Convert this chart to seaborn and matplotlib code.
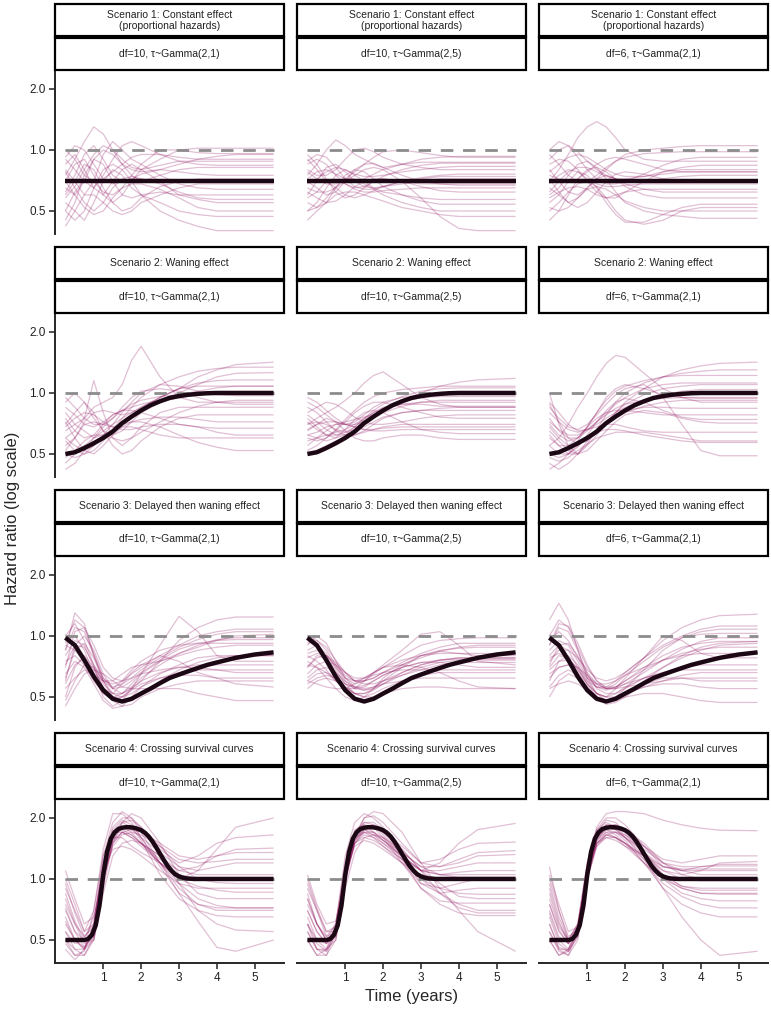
import matplotlib.pyplot as plt
import matplotlib.ticker as mticker
from matplotlib.patches import Rectangle
import pandas as pd
import seaborn as sns

# time points (years) at which the simulated curves were read
TIME_GRID = [0, 0.25, 0.5, 0.75, 1.0, 1.25, 1.5, 1.75, 2.0, 2.5, 3.0, 3.5, 4.0, 4.5, 5.5]

# true hazard ratio of each scenario
TRUE_S1_TIME = [0, 5.5]
TRUE_S1_HR = [0.70, 0.70]
TRUE_S23_TIME = [0, 0.25, 0.5, 0.75, 1.0, 1.25, 1.5, 1.75, 2.0, 2.25, 2.5, 2.75,
                 3.0, 3.25, 3.5, 3.75, 4.0, 4.25, 4.5, 4.75, 5.0, 5.25, 5.5]
TRUE_S2_HR = [0.50, 0.51, 0.535, 0.565, 0.60, 0.645, 0.71, 0.765, 0.82, 0.87, 0.91, 0.945,
              0.965, 0.98, 0.99, 0.997, 1.0, 1.0, 1.0, 1.0, 1.0, 1.0, 1.0]
TRUE_S3_HR = [0.98, 0.90, 0.76, 0.63, 0.54, 0.49, 0.475, 0.49, 0.52, 0.55, 0.585, 0.62,
              0.645, 0.67, 0.695, 0.72, 0.74, 0.76, 0.78, 0.795, 0.81, 0.82, 0.83]
TRUE_S4_TIME = [0, 0.5, 0.6, 0.7, 0.8, 0.9, 1.0, 1.1, 1.2, 1.3, 1.4, 1.5, 1.6, 1.7, 1.8,
                1.9, 2.0, 2.1, 2.2, 2.3, 2.4, 2.5, 2.6, 2.7, 2.8, 2.9, 3.0, 3.1, 3.2, 3.4, 5.5]
TRUE_S4_HR = [0.50, 0.50, 0.505, 0.53, 0.59, 0.74, 1.05, 1.36, 1.58, 1.70, 1.765, 1.79, 1.80,
              1.80, 1.79, 1.77, 1.74, 1.69, 1.62, 1.53, 1.43, 1.33, 1.24, 1.16, 1.10, 1.055,
              1.03, 1.015, 1.006, 1.0, 1.0]

# simulated curves, one list per panel (scenario x prior), values on TIME_GRID
S1_DF10_G21 = [
    [0.75, 0.9, 1.1, 1.3, 1.2, 1.0, 0.85, 0.8, 0.78, 0.8, 0.85, 0.9, 0.93, 0.95, 0.95],
    [0.55, 0.5, 0.45, 0.55, 0.7, 0.8, 0.75, 0.65, 0.6, 0.55, 0.5, 0.48, 0.47, 0.47, 0.47],
    [0.9, 0.8, 0.7, 0.65, 0.75, 0.9, 1.05, 1.1, 1.05, 0.95, 0.88, 0.85, 0.84, 0.84, 0.84],
    [0.6, 0.7, 0.85, 0.8, 0.65, 0.55, 0.5, 0.52, 0.58, 0.66, 0.7, 0.72, 0.72, 0.72, 0.72],
    [0.45, 0.55, 0.75, 0.9, 0.85, 0.7, 0.6, 0.58, 0.6, 0.62, 0.6, 0.57, 0.55, 0.55, 0.55],
    [0.8, 0.7, 0.6, 0.7, 0.95, 1.1, 1.0, 0.9, 0.85, 0.75, 0.68, 0.65, 0.64, 0.64, 0.64],
    [0.7, 0.85, 0.9, 0.75, 0.6, 0.55, 0.6, 0.7, 0.8, 0.9, 1.0, 1.02, 1.02, 1.02, 1.02],
    [0.5, 0.45, 0.5, 0.65, 0.8, 0.85, 0.8, 0.7, 0.6, 0.5, 0.45, 0.42, 0.4, 0.4, 0.4],
    [0.85, 0.95, 0.8, 0.65, 0.6, 0.7, 0.8, 0.85, 0.8, 0.7, 0.6, 0.6, 0.6, 0.6, 0.6],
    [0.65, 0.6, 0.7, 0.9, 1.0, 0.95, 0.85, 0.75, 0.7, 0.75, 0.8, 0.82, 0.82, 0.82, 0.82],
    [0.42, 0.5, 0.6, 0.6, 0.55, 0.5, 0.48, 0.5, 0.55, 0.6, 0.65, 0.68, 0.68, 0.68, 0.68],
    [1.0, 0.9, 0.75, 0.7, 0.72, 0.78, 0.85, 0.92, 0.95, 0.95, 0.92, 0.9, 0.9, 0.9, 0.9],
    [0.62, 0.75, 0.95, 1.05, 0.9, 0.75, 0.7, 0.72, 0.76, 0.8, 0.78, 0.76, 0.75, 0.75, 0.75],
    [0.78, 0.65, 0.55, 0.5, 0.55, 0.65, 0.72, 0.74, 0.72, 0.68, 0.62, 0.58, 0.57, 0.57, 0.57],
    [0.5, 0.62, 0.72, 0.7, 0.62, 0.6, 0.65, 0.75, 0.85, 1.0, 1.0, 0.97, 0.96, 0.96, 0.96],
    [0.92, 1.05, 1.0, 0.85, 0.72, 0.68, 0.7, 0.72, 0.72, 0.7, 0.7, 0.7, 0.7, 0.7, 0.7],
    [0.7, 0.6, 0.52, 0.48, 0.5, 0.58, 0.65, 0.68, 0.68, 0.64, 0.58, 0.52, 0.5, 0.5, 0.5],
    [0.58, 0.66, 0.8, 0.95, 1.05, 1.0, 0.9, 0.82, 0.8, 0.84, 0.88, 0.88, 0.88, 0.88, 0.88],
]
S1_DF10_G25 = [
    [0.75, 0.85, 1.0, 1.12, 1.05, 0.95, 0.9, 0.85, 0.82, 0.85, 0.9, 0.92, 0.93, 0.93, 0.93],
    [0.5, 0.55, 0.65, 0.75, 0.8, 0.75, 0.7, 0.65, 0.62, 0.6, 0.58, 0.57, 0.57, 0.57, 0.57],
    [0.7, 0.65, 0.6, 0.62, 0.7, 0.8, 0.85, 0.86, 0.82, 0.75, 0.7, 0.68, 0.67, 0.67, 0.67],
    [0.9, 0.8, 0.7, 0.65, 0.6, 0.58, 0.6, 0.63, 0.66, 0.7, 0.73, 0.75, 0.76, 0.76, 0.76],
    [0.6, 0.7, 0.82, 0.85, 0.78, 0.7, 0.66, 0.65, 0.66, 0.68, 0.7, 0.72, 0.72, 0.72, 0.72],
    [0.45, 0.5, 0.55, 0.6, 0.62, 0.62, 0.6, 0.58, 0.56, 0.52, 0.5, 0.48, 0.47, 0.47, 0.47],
    [0.8, 0.75, 0.75, 0.8, 0.9, 1.0, 1.02, 0.98, 0.92, 0.85, 0.82, 0.8, 0.8, 0.8, 0.8],
    [0.65, 0.62, 0.62, 0.65, 0.7, 0.75, 0.8, 0.82, 0.8, 0.7, 0.58, 0.47, 0.41, 0.4, 0.4],
    [0.85, 0.9, 0.85, 0.75, 0.68, 0.65, 0.66, 0.7, 0.74, 0.8, 0.84, 0.86, 0.86, 0.86, 0.86],
    [0.55, 0.52, 0.55, 0.65, 0.75, 0.8, 0.78, 0.72, 0.66, 0.6, 0.56, 0.54, 0.54, 0.54, 0.54],
    [0.72, 0.78, 0.8, 0.76, 0.72, 0.7, 0.72, 0.76, 0.8, 0.85, 0.87, 0.87, 0.87, 0.87, 0.87],
    [0.95, 0.85, 0.72, 0.62, 0.58, 0.6, 0.65, 0.7, 0.72, 0.7, 0.66, 0.63, 0.62, 0.62, 0.62],
    [0.68, 0.72, 0.78, 0.82, 0.8, 0.76, 0.74, 0.74, 0.75, 0.78, 0.8, 0.82, 0.83, 0.83, 0.83],
    [0.58, 0.62, 0.7, 0.72, 0.68, 0.64, 0.62, 0.62, 0.63, 0.64, 0.65, 0.65, 0.65, 0.65, 0.65],
    [0.78, 0.72, 0.68, 0.68, 0.72, 0.78, 0.85, 0.92, 0.98, 1.0, 0.97, 0.94, 0.92, 0.92, 0.92],
    [0.62, 0.58, 0.55, 0.56, 0.6, 0.66, 0.7, 0.72, 0.72, 0.7, 0.68, 0.68, 0.68, 0.68, 0.68],
    [0.88, 0.95, 0.92, 0.82, 0.72, 0.66, 0.64, 0.64, 0.66, 0.7, 0.72, 0.74, 0.74, 0.74, 0.74],
    [0.5, 0.52, 0.58, 0.66, 0.72, 0.72, 0.68, 0.64, 0.6, 0.55, 0.52, 0.5, 0.5, 0.5, 0.5],
]
S1_DF6_G21 = [
    [0.7, 0.8, 0.95, 1.15, 1.3, 1.38, 1.3, 1.15, 1.0, 0.9, 0.88, 0.88, 0.88, 0.88, 0.88],
    [0.5, 0.55, 0.62, 0.68, 0.7, 0.66, 0.58, 0.5, 0.45, 0.43, 0.45, 0.5, 0.52, 0.52, 0.52],
    [0.8, 0.7, 0.62, 0.6, 0.65, 0.72, 0.8, 0.88, 0.95, 1.0, 1.02, 1.04, 1.05, 1.05, 1.05],
    [0.6, 0.65, 0.75, 0.85, 0.88, 0.82, 0.72, 0.62, 0.55, 0.5, 0.48, 0.47, 0.46, 0.46, 0.46],
    [0.9, 1.0, 1.05, 0.98, 0.88, 0.8, 0.75, 0.72, 0.7, 0.7, 0.72, 0.74, 0.75, 0.75, 0.75],
    [0.45, 0.5, 0.6, 0.72, 0.8, 0.82, 0.78, 0.72, 0.66, 0.6, 0.58, 0.58, 0.58, 0.58, 0.58],
    [0.75, 0.72, 0.7, 0.72, 0.78, 0.85, 0.9, 0.92, 0.9, 0.85, 0.8, 0.78, 0.78, 0.78, 0.78],
    [0.65, 0.6, 0.55, 0.58, 0.65, 0.72, 0.75, 0.72, 0.68, 0.64, 0.62, 0.62, 0.62, 0.62, 0.62],
    [0.85, 0.9, 0.88, 0.8, 0.7, 0.62, 0.58, 0.58, 0.62, 0.7, 0.78, 0.82, 0.84, 0.84, 0.84],
    [0.55, 0.6, 0.7, 0.78, 0.75, 0.65, 0.55, 0.48, 0.44, 0.44, 0.48, 0.52, 0.54, 0.54, 0.54],
    [0.95, 0.85, 0.75, 0.7, 0.7, 0.75, 0.82, 0.88, 0.92, 0.96, 0.97, 0.98, 0.98, 0.98, 0.98],
    [0.68, 0.75, 0.8, 0.78, 0.72, 0.68, 0.66, 0.66, 0.67, 0.68, 0.68, 0.68, 0.68, 0.68, 0.68],
    [0.62, 0.7, 0.78, 0.82, 0.82, 0.78, 0.74, 0.72, 0.72, 0.74, 0.78, 0.8, 0.8, 0.8, 0.8],
    [0.72, 0.62, 0.55, 0.52, 0.55, 0.62, 0.7, 0.76, 0.78, 0.76, 0.72, 0.7, 0.7, 0.7, 0.7],
    [1.0, 1.1, 1.05, 0.92, 0.8, 0.72, 0.68, 0.68, 0.7, 0.76, 0.84, 0.9, 0.92, 0.92, 0.92],
    [0.52, 0.5, 0.52, 0.58, 0.64, 0.66, 0.64, 0.6, 0.56, 0.52, 0.5, 0.5, 0.5, 0.5, 0.5],
    [0.78, 0.85, 0.92, 0.95, 0.92, 0.86, 0.8, 0.76, 0.74, 0.74, 0.76, 0.78, 0.78, 0.78, 0.78],
    [0.58, 0.62, 0.65, 0.66, 0.64, 0.6, 0.58, 0.6, 0.62, 0.64, 0.64, 0.64, 0.64, 0.64, 0.64],
]
S2_DF10_G21 = [
    [0.6, 0.65, 0.75, 0.85, 0.9, 0.95, 1.1, 1.45, 1.7, 1.2, 0.95, 0.9, 0.9, 0.9, 0.9],
    [0.45, 0.5, 0.55, 0.6, 0.65, 0.7, 0.75, 0.8, 0.85, 0.95, 1.05, 1.2, 1.3, 1.38, 1.42],
    [0.8, 0.7, 0.75, 1.15, 0.8, 0.6, 0.55, 0.6, 0.68, 0.8, 0.85, 0.85, 0.85, 0.85, 0.85],
    [0.7, 0.8, 0.9, 0.8, 0.65, 0.55, 0.5, 0.52, 0.58, 0.68, 0.75, 0.78, 0.78, 0.78, 0.78],
    [0.55, 0.6, 0.7, 0.72, 0.7, 0.68, 0.7, 0.75, 0.82, 0.95, 1.05, 1.12, 1.15, 1.16, 1.16],
    [0.9, 1.0, 0.9, 0.75, 0.65, 0.62, 0.65, 0.72, 0.8, 0.9, 0.95, 0.98, 1.0, 1.0, 1.0],
    [0.5, 0.48, 0.5, 0.55, 0.6, 0.65, 0.7, 0.72, 0.72, 0.68, 0.62, 0.57, 0.54, 0.52, 0.52],
    [0.65, 0.7, 0.65, 0.6, 0.62, 0.7, 0.8, 0.9, 1.0, 1.1, 1.08, 1.02, 0.98, 0.97, 0.97],
    [0.75, 0.65, 0.6, 0.62, 0.7, 0.78, 0.82, 0.82, 0.8, 0.75, 0.7, 0.68, 0.67, 0.67, 0.67],
    [0.42, 0.45, 0.52, 0.6, 0.68, 0.75, 0.85, 0.95, 1.02, 1.05, 1.02, 0.95, 0.9, 0.88, 0.88],
    [0.85, 0.78, 0.7, 0.68, 0.72, 0.78, 0.82, 0.85, 0.88, 0.92, 1.0, 1.1, 1.2, 1.25, 1.26],
    [0.6, 0.55, 0.52, 0.55, 0.62, 0.66, 0.68, 0.68, 0.66, 0.62, 0.6, 0.6, 0.6, 0.6, 0.6],
    [0.52, 0.6, 0.72, 0.8, 0.82, 0.8, 0.78, 0.8, 0.85, 0.95, 1.05, 1.08, 1.08, 1.08, 1.08],
    [0.72, 0.6, 0.52, 0.5, 0.55, 0.62, 0.68, 0.72, 0.74, 0.76, 0.76, 0.74, 0.72, 0.72, 0.72],
    [0.95, 0.85, 0.75, 0.7, 0.7, 0.75, 0.82, 0.88, 0.92, 0.96, 0.98, 1.02, 1.06, 1.08, 1.08],
    [0.48, 0.52, 0.58, 0.62, 0.62, 0.6, 0.58, 0.6, 0.64, 0.72, 0.8, 0.86, 0.9, 0.92, 0.92],
    [0.68, 0.75, 0.8, 0.78, 0.72, 0.68, 0.66, 0.66, 0.68, 0.7, 0.7, 0.68, 0.64, 0.62, 0.62],
    [0.58, 0.52, 0.5, 0.52, 0.58, 0.66, 0.75, 0.85, 0.95, 1.1, 1.2, 1.28, 1.32, 1.34, 1.34],
]
S2_DF10_G25 = [
    [0.7, 0.75, 0.8, 0.85, 0.92, 1.0, 1.12, 1.22, 1.27, 1.1, 0.95, 0.88, 0.85, 0.85, 0.85],
    [0.55, 0.6, 0.65, 0.7, 0.72, 0.74, 0.76, 0.78, 0.82, 0.9, 1.0, 1.08, 1.13, 1.16, 1.18],
    [0.85, 0.8, 0.72, 0.65, 0.62, 0.62, 0.65, 0.7, 0.75, 0.8, 0.82, 0.82, 0.82, 0.82, 0.82],
    [0.65, 0.7, 0.75, 0.72, 0.65, 0.6, 0.58, 0.58, 0.6, 0.62, 0.62, 0.6, 0.59, 0.59, 0.59],
    [0.9, 0.85, 0.78, 0.72, 0.7, 0.72, 0.78, 0.85, 0.9, 0.95, 0.97, 0.98, 0.98, 0.98, 0.98],
    [0.6, 0.58, 0.6, 0.65, 0.72, 0.8, 0.86, 0.9, 0.9, 0.85, 0.8, 0.76, 0.75, 0.75, 0.75],
    [0.75, 0.68, 0.62, 0.6, 0.62, 0.68, 0.75, 0.82, 0.88, 0.96, 1.02, 1.05, 1.06, 1.06, 1.06],
    [0.5, 0.52, 0.55, 0.58, 0.6, 0.62, 0.64, 0.66, 0.68, 0.7, 0.7, 0.7, 0.7, 0.7, 0.7],
    [0.8, 0.85, 0.9, 0.88, 0.82, 0.76, 0.72, 0.7, 0.7, 0.72, 0.75, 0.77, 0.78, 0.78, 0.78],
    [0.62, 0.6, 0.58, 0.6, 0.66, 0.74, 0.8, 0.82, 0.8, 0.72, 0.66, 0.64, 0.63, 0.63, 0.63],
    [0.95, 0.9, 0.82, 0.75, 0.7, 0.7, 0.72, 0.76, 0.8, 0.86, 0.9, 0.92, 0.92, 0.92, 0.92],
    [0.7, 0.72, 0.7, 0.66, 0.64, 0.66, 0.7, 0.76, 0.82, 0.9, 0.95, 0.96, 0.96, 0.96, 0.96],
    [0.58, 0.6, 0.62, 0.64, 0.66, 0.7, 0.75, 0.8, 0.84, 0.88, 0.9, 0.9, 0.9, 0.9, 0.9],
    [0.78, 0.72, 0.66, 0.62, 0.62, 0.64, 0.68, 0.72, 0.76, 0.8, 0.82, 0.84, 0.85, 0.85, 0.85],
    [0.66, 0.7, 0.72, 0.72, 0.7, 0.68, 0.66, 0.66, 0.67, 0.68, 0.68, 0.68, 0.68, 0.68, 0.68],
    [0.52, 0.55, 0.6, 0.66, 0.74, 0.82, 0.9, 0.96, 1.0, 1.04, 1.06, 1.08, 1.08, 1.08, 1.08],
    [0.72, 0.66, 0.62, 0.62, 0.64, 0.68, 0.74, 0.8, 0.85, 0.88, 0.88, 0.86, 0.86, 0.86, 0.86],
    [0.62, 0.64, 0.68, 0.7, 0.7, 0.68, 0.66, 0.65, 0.65, 0.66, 0.66, 0.66, 0.66, 0.66, 0.66],
]
S2_DF6_G21 = [
    [0.55, 0.6, 0.7, 0.85, 1.0, 1.2, 1.4, 1.53, 1.5, 1.25, 1.05, 0.95, 0.9, 0.9, 0.9],
    [1.0, 0.7, 0.55, 0.5, 0.55, 0.62, 0.7, 0.8, 0.9, 1.05, 1.2, 1.3, 1.36, 1.4, 1.42],
    [0.75, 0.65, 0.6, 0.6, 0.65, 0.72, 0.8, 0.88, 0.95, 1.05, 1.1, 1.12, 1.12, 1.12, 1.12],
    [0.45, 0.42, 0.45, 0.5, 0.58, 0.65, 0.72, 0.78, 0.82, 0.85, 0.85, 0.84, 0.84, 0.84, 0.84],
    [0.85, 0.75, 0.68, 0.66, 0.7, 0.78, 0.88, 0.98, 1.05, 1.1, 0.95, 0.7, 0.52, 0.49, 0.49],
    [0.6, 0.55, 0.55, 0.6, 0.68, 0.75, 0.8, 0.82, 0.82, 0.8, 0.78, 0.78, 0.78, 0.78, 0.78],
    [0.7, 0.62, 0.58, 0.6, 0.68, 0.8, 0.92, 1.02, 1.08, 1.15, 1.2, 1.22, 1.22, 1.22, 1.22],
    [0.5, 0.48, 0.5, 0.55, 0.6, 0.64, 0.66, 0.66, 0.65, 0.62, 0.6, 0.58, 0.57, 0.57, 0.57],
    [0.9, 0.8, 0.7, 0.65, 0.66, 0.7, 0.75, 0.8, 0.85, 0.92, 0.98, 1.02, 1.04, 1.04, 1.04],
    [0.65, 0.58, 0.52, 0.5, 0.52, 0.58, 0.65, 0.72, 0.78, 0.82, 0.8, 0.75, 0.72, 0.71, 0.71],
    [0.42, 0.45, 0.5, 0.58, 0.68, 0.8, 0.95, 1.05, 1.1, 1.05, 0.98, 0.95, 0.94, 0.94, 0.94],
    [0.8, 0.72, 0.66, 0.64, 0.66, 0.68, 0.7, 0.7, 0.68, 0.65, 0.64, 0.64, 0.64, 0.64, 0.64],
    [0.62, 0.55, 0.5, 0.5, 0.56, 0.66, 0.78, 0.9, 1.0, 1.12, 1.2, 1.25, 1.28, 1.3, 1.3],
    [0.72, 0.66, 0.62, 0.62, 0.66, 0.72, 0.78, 0.84, 0.88, 0.92, 0.94, 0.95, 0.95, 0.95, 0.95],
    [0.55, 0.5, 0.5, 0.54, 0.62, 0.72, 0.82, 0.9, 0.94, 0.9, 0.82, 0.76, 0.74, 0.74, 0.74],
    [0.88, 0.72, 0.6, 0.56, 0.58, 0.64, 0.72, 0.8, 0.88, 0.98, 1.05, 1.08, 1.1, 1.1, 1.1],
    [0.48, 0.46, 0.48, 0.52, 0.56, 0.6, 0.62, 0.64, 0.64, 0.64, 0.62, 0.6, 0.58, 0.58, 0.58],
    [0.68, 0.6, 0.55, 0.55, 0.6, 0.66, 0.72, 0.76, 0.8, 0.86, 0.9, 0.92, 0.92, 0.92, 0.92],
]
S3_DF10_G21 = [
    [0.85, 1.3, 1.15, 0.8, 0.6, 0.55, 0.6, 0.68, 0.75, 0.85, 0.9, 0.92, 0.92, 0.92, 0.92],
    [0.6, 0.9, 1.0, 0.85, 0.65, 0.55, 0.52, 0.55, 0.6, 0.75, 0.95, 1.1, 1.2, 1.24, 1.24],
    [0.95, 1.0, 0.85, 0.65, 0.5, 0.45, 0.48, 0.55, 0.65, 0.9, 1.25, 1.05, 0.8, 0.75, 0.75],
    [0.5, 0.7, 0.8, 0.7, 0.55, 0.48, 0.45, 0.46, 0.5, 0.55, 0.58, 0.6, 0.6, 0.6, 0.6],
    [0.75, 0.8, 0.72, 0.6, 0.52, 0.5, 0.52, 0.58, 0.65, 0.75, 0.82, 0.88, 0.95, 1.0, 1.02],
    [0.45, 0.55, 0.65, 0.68, 0.65, 0.6, 0.56, 0.55, 0.55, 0.55, 0.55, 0.52, 0.5, 0.48, 0.48],
    [1.0, 1.15, 0.95, 0.72, 0.6, 0.6, 0.65, 0.7, 0.72, 0.75, 0.8, 0.85, 0.88, 0.9, 0.9],
    [0.65, 0.75, 0.7, 0.58, 0.48, 0.44, 0.45, 0.5, 0.56, 0.65, 0.72, 0.78, 0.8, 0.8, 0.8],
    [0.8, 0.95, 0.9, 0.7, 0.55, 0.52, 0.58, 0.66, 0.72, 0.8, 0.75, 0.66, 0.62, 0.62, 0.62],
    [0.55, 0.62, 0.68, 0.65, 0.6, 0.58, 0.6, 0.65, 0.7, 0.8, 0.9, 1.0, 1.05, 1.08, 1.08],
    [0.9, 0.85, 0.75, 0.62, 0.52, 0.48, 0.5, 0.55, 0.6, 0.66, 0.7, 0.72, 0.72, 0.72, 0.72],
    [0.7, 1.05, 1.1, 0.9, 0.7, 0.62, 0.6, 0.62, 0.65, 0.68, 0.7, 0.7, 0.68, 0.66, 0.66],
    [0.62, 0.85, 0.92, 0.78, 0.6, 0.5, 0.47, 0.48, 0.52, 0.6, 0.68, 0.74, 0.78, 0.8, 0.8],
    [0.85, 1.1, 1.05, 0.8, 0.62, 0.56, 0.58, 0.62, 0.68, 0.78, 0.88, 0.96, 1.02, 1.05, 1.05],
    [0.48, 0.6, 0.72, 0.7, 0.6, 0.52, 0.5, 0.52, 0.56, 0.62, 0.66, 0.68, 0.68, 0.68, 0.68],
    [0.72, 0.9, 0.88, 0.72, 0.58, 0.52, 0.52, 0.56, 0.62, 0.72, 0.82, 0.9, 0.96, 0.98, 0.98],
    [0.58, 0.72, 0.78, 0.68, 0.56, 0.5, 0.5, 0.54, 0.58, 0.62, 0.64, 0.64, 0.62, 0.58, 0.56],
    [0.92, 1.2, 1.1, 0.82, 0.62, 0.55, 0.56, 0.6, 0.66, 0.76, 0.86, 0.92, 0.95, 0.96, 0.96],
]
S3_DF10_G25 = [
    [0.9, 1.0, 0.92, 0.75, 0.62, 0.58, 0.6, 0.65, 0.7, 0.8, 0.9, 0.95, 0.97, 0.98, 0.98],
    [0.7, 0.8, 0.78, 0.68, 0.58, 0.52, 0.5, 0.52, 0.55, 0.6, 0.64, 0.66, 0.66, 0.66, 0.66],
    [0.6, 0.65, 0.66, 0.62, 0.56, 0.52, 0.52, 0.55, 0.6, 0.7, 0.8, 0.85, 0.87, 0.88, 0.88],
    [0.8, 0.75, 0.68, 0.6, 0.55, 0.55, 0.6, 0.66, 0.72, 0.85, 1.02, 1.05, 0.9, 0.75, 0.72],
    [0.55, 0.6, 0.62, 0.6, 0.56, 0.52, 0.5, 0.5, 0.52, 0.55, 0.56, 0.56, 0.55, 0.55, 0.55],
    [0.95, 0.88, 0.78, 0.66, 0.58, 0.55, 0.56, 0.6, 0.64, 0.7, 0.74, 0.76, 0.77, 0.77, 0.77],
    [0.65, 0.72, 0.75, 0.72, 0.66, 0.62, 0.62, 0.64, 0.66, 0.68, 0.68, 0.68, 0.68, 0.68, 0.68],
    [0.75, 0.7, 0.62, 0.55, 0.5, 0.48, 0.5, 0.55, 0.62, 0.72, 0.8, 0.84, 0.82, 0.8, 0.8],
    [0.85, 0.9, 0.82, 0.7, 0.62, 0.6, 0.62, 0.66, 0.7, 0.72, 0.7, 0.66, 0.6, 0.56, 0.55],
    [0.6, 0.58, 0.56, 0.55, 0.55, 0.58, 0.62, 0.66, 0.7, 0.76, 0.8, 0.82, 0.82, 0.82, 0.82],
    [1.0, 0.95, 0.85, 0.72, 0.62, 0.56, 0.54, 0.55, 0.58, 0.64, 0.7, 0.74, 0.76, 0.76, 0.76],
    [0.7, 0.78, 0.8, 0.74, 0.66, 0.6, 0.58, 0.58, 0.6, 0.64, 0.68, 0.72, 0.74, 0.74, 0.74],
    [0.82, 0.85, 0.8, 0.7, 0.6, 0.55, 0.54, 0.56, 0.6, 0.66, 0.72, 0.76, 0.78, 0.78, 0.78],
    [0.62, 0.68, 0.7, 0.66, 0.6, 0.56, 0.55, 0.56, 0.58, 0.6, 0.62, 0.62, 0.62, 0.62, 0.62],
    [0.92, 0.95, 0.88, 0.76, 0.66, 0.6, 0.6, 0.62, 0.66, 0.74, 0.82, 0.88, 0.92, 0.92, 0.92],
    [0.72, 0.7, 0.66, 0.6, 0.55, 0.52, 0.52, 0.54, 0.58, 0.66, 0.72, 0.76, 0.78, 0.78, 0.78],
    [0.58, 0.62, 0.64, 0.62, 0.58, 0.56, 0.57, 0.6, 0.64, 0.7, 0.74, 0.74, 0.72, 0.7, 0.7],
    [0.78, 0.82, 0.8, 0.72, 0.64, 0.6, 0.6, 0.62, 0.66, 0.72, 0.78, 0.84, 0.88, 0.9, 0.9],
]
S3_DF6_G21 = [
    [1.2, 1.45, 1.2, 0.85, 0.62, 0.52, 0.5, 0.55, 0.62, 0.78, 0.95, 1.1, 1.2, 1.26, 1.28],
    [0.9, 1.1, 1.05, 0.85, 0.65, 0.55, 0.52, 0.52, 0.55, 0.62, 0.7, 0.78, 0.85, 0.9, 0.92],
    [0.6, 0.75, 0.8, 0.72, 0.6, 0.52, 0.48, 0.48, 0.52, 0.6, 0.7, 0.8, 0.88, 0.92, 0.94],
    [0.8, 0.9, 0.85, 0.7, 0.58, 0.5, 0.46, 0.47, 0.5, 0.58, 0.62, 0.62, 0.6, 0.6, 0.6],
    [0.5, 0.6, 0.65, 0.62, 0.55, 0.5, 0.48, 0.5, 0.55, 0.68, 0.85, 0.98, 1.05, 1.08, 1.08],
    [1.0, 1.2, 1.1, 0.88, 0.7, 0.6, 0.56, 0.56, 0.58, 0.62, 0.66, 0.7, 0.72, 0.72, 0.72],
    [0.7, 0.8, 0.78, 0.68, 0.58, 0.52, 0.5, 0.52, 0.56, 0.62, 0.66, 0.68, 0.68, 0.68, 0.68],
    [0.85, 0.95, 0.9, 0.75, 0.62, 0.56, 0.55, 0.58, 0.64, 0.75, 0.88, 0.98, 1.02, 1.03, 1.03],
    [0.55, 0.58, 0.6, 0.58, 0.54, 0.5, 0.48, 0.48, 0.5, 0.52, 0.52, 0.5, 0.48, 0.47, 0.47],
    [0.75, 0.85, 0.85, 0.78, 0.68, 0.62, 0.6, 0.62, 0.66, 0.78, 1.0, 0.95, 0.82, 0.78, 0.78],
    [0.95, 1.05, 0.95, 0.78, 0.64, 0.56, 0.54, 0.56, 0.6, 0.68, 0.76, 0.82, 0.86, 0.88, 0.88],
    [0.65, 0.7, 0.72, 0.7, 0.64, 0.58, 0.55, 0.55, 0.56, 0.58, 0.6, 0.62, 0.62, 0.62, 0.62],
    [0.72, 0.9, 0.92, 0.8, 0.66, 0.58, 0.55, 0.56, 0.6, 0.7, 0.8, 0.88, 0.92, 0.94, 0.94],
    [0.62, 0.7, 0.72, 0.66, 0.58, 0.52, 0.5, 0.5, 0.52, 0.56, 0.6, 0.64, 0.66, 0.66, 0.66],
    [0.9, 1.15, 1.12, 0.92, 0.72, 0.6, 0.55, 0.55, 0.58, 0.66, 0.76, 0.86, 0.94, 0.98, 0.98],
    [0.78, 0.82, 0.78, 0.68, 0.6, 0.56, 0.56, 0.6, 0.66, 0.78, 0.9, 1.0, 1.08, 1.12, 1.12],
    [0.56, 0.64, 0.68, 0.64, 0.56, 0.5, 0.48, 0.49, 0.52, 0.56, 0.58, 0.58, 0.56, 0.55, 0.55],
    [0.68, 0.75, 0.76, 0.7, 0.62, 0.58, 0.58, 0.6, 0.64, 0.7, 0.76, 0.8, 0.82, 0.82, 0.82],
]
S4_DF10_G21 = [
    [0.9, 0.7, 0.55, 0.7, 1.4, 2.1, 2.1, 1.9, 1.6, 1.2, 1.0, 1.1, 1.4, 1.8, 2.0],
    [0.6, 0.5, 0.45, 0.6, 1.2, 1.8, 2.0, 2.0, 1.8, 1.4, 1.2, 1.3, 1.5, 1.6, 1.65],
    [1.1, 0.8, 0.6, 0.65, 1.0, 1.5, 1.7, 1.65, 1.5, 1.2, 0.9, 0.75, 0.7, 0.7, 0.7],
    [0.5, 0.42, 0.42, 0.5, 0.9, 1.5, 1.9, 2.1, 2.0, 1.5, 1.05, 0.85, 0.8, 0.8, 0.8],
    [0.7, 0.55, 0.5, 0.55, 1.1, 1.6, 1.6, 1.45, 1.35, 1.2, 1.05, 1.0, 1.0, 1.0, 1.0],
    [0.45, 0.4, 0.45, 0.7, 1.3, 1.7, 1.7, 1.6, 1.5, 1.3, 1.1, 1.15, 1.3, 1.4, 1.42],
    [0.8, 0.6, 0.48, 0.5, 0.85, 1.3, 1.5, 1.55, 1.5, 1.3, 0.95, 0.7, 0.6, 0.56, 0.55],
    [1.0, 0.75, 0.55, 0.6, 1.3, 1.9, 2.15, 2.0, 1.7, 1.2, 0.85, 0.62, 0.46, 0.44, 0.5],
    [0.55, 0.48, 0.5, 0.65, 1.1, 1.4, 1.45, 1.4, 1.3, 1.1, 0.95, 0.9, 0.9, 0.9, 0.9],
    [0.65, 0.5, 0.45, 0.5, 0.95, 1.55, 1.8, 1.75, 1.6, 1.35, 1.15, 1.1, 1.15, 1.2, 1.2],
    [0.75, 0.6, 0.52, 0.6, 1.15, 1.7, 1.9, 1.8, 1.55, 1.05, 0.8, 0.7, 0.66, 0.65, 0.65],
    [0.5, 0.45, 0.45, 0.55, 1.0, 1.45, 1.65, 1.7, 1.65, 1.45, 1.25, 1.2, 1.22, 1.25, 1.25],
    [0.85, 0.62, 0.5, 0.55, 1.05, 1.6, 1.8, 1.7, 1.5, 1.25, 1.1, 1.05, 1.05, 1.05, 1.05],
    [0.55, 0.45, 0.42, 0.52, 1.0, 1.5, 1.7, 1.75, 1.7, 1.5, 1.3, 1.25, 1.3, 1.35, 1.35],
    [0.95, 0.68, 0.52, 0.58, 1.2, 1.75, 1.95, 1.85, 1.6, 1.15, 0.85, 0.75, 0.72, 0.72, 0.72],
    [0.62, 0.5, 0.46, 0.55, 1.05, 1.55, 1.7, 1.6, 1.45, 1.2, 1.0, 0.92, 0.88, 0.86, 0.86],
    [0.72, 0.55, 0.46, 0.52, 1.0, 1.6, 1.9, 1.95, 1.8, 1.45, 1.15, 1.0, 0.96, 0.95, 0.95],
    [0.48, 0.42, 0.44, 0.58, 1.15, 1.65, 1.75, 1.65, 1.5, 1.2, 0.95, 0.8, 0.74, 0.72, 0.72],
]
S4_DF10_G25 = [
    [0.85, 0.6, 0.5, 0.6, 1.3, 1.9, 2.1, 2.0, 1.8, 1.4, 1.1, 1.2, 1.5, 1.75, 1.88],
    [0.6, 0.45, 0.42, 0.55, 1.1, 1.7, 1.9, 1.9, 1.75, 1.35, 1.0, 0.85, 0.75, 0.7, 0.7],
    [1.05, 0.75, 0.6, 0.62, 1.0, 1.5, 1.75, 1.8, 1.7, 1.45, 1.2, 1.15, 1.2, 1.3, 1.32],
    [0.5, 0.42, 0.45, 0.55, 1.0, 1.6, 2.0, 2.15, 2.1, 1.7, 1.2, 0.9, 0.7, 0.55, 0.44],
    [0.7, 0.55, 0.48, 0.55, 1.05, 1.45, 1.55, 1.5, 1.4, 1.2, 1.05, 1.0, 1.0, 1.0, 1.0],
    [0.55, 0.45, 0.45, 0.6, 1.2, 1.75, 1.85, 1.7, 1.55, 1.3, 1.1, 1.1, 1.15, 1.2, 1.2],
    [0.9, 0.7, 0.55, 0.55, 0.9, 1.35, 1.6, 1.65, 1.6, 1.4, 1.1, 0.85, 0.72, 0.68, 0.68],
    [0.65, 0.5, 0.45, 0.5, 0.95, 1.55, 1.8, 1.85, 1.7, 1.3, 0.95, 0.85, 0.88, 0.9, 0.9],
    [0.75, 0.6, 0.52, 0.6, 1.15, 1.6, 1.7, 1.6, 1.45, 1.25, 1.1, 1.05, 1.05, 1.05, 1.05],
    [0.5, 0.42, 0.42, 0.5, 1.0, 1.65, 2.0, 2.05, 1.9, 1.5, 1.2, 1.25, 1.4, 1.5, 1.52],
    [0.8, 0.6, 0.5, 0.55, 1.1, 1.5, 1.6, 1.55, 1.45, 1.2, 0.9, 0.78, 0.76, 0.76, 0.76],
    [0.6, 0.5, 0.48, 0.55, 1.05, 1.6, 1.85, 1.8, 1.6, 1.2, 0.95, 0.9, 0.95, 1.0, 1.0],
    [0.95, 0.7, 0.52, 0.55, 1.0, 1.55, 1.75, 1.7, 1.55, 1.3, 1.1, 1.05, 1.08, 1.1, 1.1],
    [0.55, 0.45, 0.44, 0.55, 1.1, 1.6, 1.75, 1.65, 1.5, 1.25, 1.0, 0.9, 0.85, 0.84, 0.84],
    [0.7, 0.55, 0.48, 0.52, 1.0, 1.5, 1.7, 1.7, 1.6, 1.35, 1.15, 1.15, 1.25, 1.35, 1.38],
    [0.8, 0.6, 0.5, 0.55, 1.1, 1.65, 1.9, 1.85, 1.65, 1.25, 0.9, 0.75, 0.68, 0.66, 0.66],
    [0.6, 0.48, 0.44, 0.52, 1.05, 1.55, 1.7, 1.65, 1.55, 1.35, 1.15, 1.05, 1.02, 1.02, 1.02],
    [1.0, 0.72, 0.55, 0.58, 1.05, 1.5, 1.65, 1.6, 1.5, 1.3, 1.1, 0.95, 0.82, 0.8, 0.8],
]
S4_DF6_G21 = [
    [1.15, 0.7, 0.5, 0.6, 1.2, 1.8, 2.1, 2.15, 2.15, 2.1, 1.95, 1.85, 1.78, 1.74, 1.73],
    [0.6, 0.45, 0.42, 0.55, 1.1, 1.7, 1.95, 1.9, 1.7, 1.35, 1.1, 1.05, 1.1, 1.2, 1.22],
    [0.85, 0.6, 0.5, 0.6, 1.15, 1.6, 1.75, 1.65, 1.5, 1.2, 0.95, 0.82, 0.75, 0.72, 0.72],
    [0.5, 0.42, 0.45, 0.6, 1.2, 1.75, 1.9, 1.8, 1.6, 1.25, 0.9, 0.65, 0.5, 0.42, 0.44],
    [0.7, 0.52, 0.48, 0.58, 1.1, 1.5, 1.6, 1.55, 1.45, 1.3, 1.15, 1.12, 1.12, 1.12, 1.12],
    [0.95, 0.65, 0.5, 0.55, 1.0, 1.45, 1.65, 1.7, 1.65, 1.45, 1.25, 1.2, 1.25, 1.3, 1.3],
    [0.55, 0.45, 0.45, 0.55, 1.05, 1.55, 1.75, 1.7, 1.55, 1.2, 0.9, 0.75, 0.68, 0.65, 0.65],
    [0.75, 0.55, 0.48, 0.55, 1.1, 1.65, 1.85, 1.85, 1.75, 1.5, 1.2, 1.05, 1.0, 1.0, 1.0],
    [0.65, 0.48, 0.44, 0.52, 1.0, 1.45, 1.6, 1.6, 1.5, 1.3, 1.05, 0.92, 0.88, 0.88, 0.88],
    [1.05, 0.75, 0.55, 0.58, 1.05, 1.55, 1.7, 1.6, 1.45, 1.2, 1.0, 0.9, 0.85, 0.84, 0.84],
    [0.5, 0.42, 0.44, 0.55, 1.15, 1.75, 2.0, 2.0, 1.85, 1.45, 1.15, 1.1, 1.15, 1.18, 1.18],
    [0.8, 0.58, 0.5, 0.58, 1.05, 1.5, 1.65, 1.6, 1.5, 1.3, 1.1, 1.0, 0.98, 0.98, 0.98],
    [0.9, 0.62, 0.48, 0.55, 1.1, 1.6, 1.8, 1.75, 1.6, 1.35, 1.15, 1.1, 1.1, 1.1, 1.1],
    [0.6, 0.46, 0.44, 0.52, 1.0, 1.5, 1.7, 1.7, 1.6, 1.4, 1.2, 1.15, 1.15, 1.16, 1.16],
    [0.75, 0.56, 0.48, 0.56, 1.1, 1.6, 1.8, 1.75, 1.6, 1.3, 1.0, 0.85, 0.8, 0.78, 0.78],
    [0.55, 0.44, 0.42, 0.5, 1.0, 1.55, 1.8, 1.85, 1.75, 1.45, 1.2, 1.1, 1.05, 1.05, 1.05],
    [1.0, 0.7, 0.52, 0.56, 1.05, 1.5, 1.65, 1.6, 1.5, 1.25, 1.02, 0.9, 0.85, 0.85, 0.85],
    [0.68, 0.5, 0.45, 0.55, 1.1, 1.65, 1.85, 1.8, 1.65, 1.35, 1.05, 0.92, 0.9, 0.9, 0.9],
]

SCENARIOS = [
    "Scenario 1: Constant effect\n(proportional hazards)",
    "Scenario 2: Waning effect",
    "Scenario 3: Delayed then waning effect",
    "Scenario 4: Crossing survival curves",
]
PRIORS = ["df=10, \u03c4~Gamma(2,1)", "df=10, \u03c4~Gamma(2,5)", "df=6, \u03c4~Gamma(2,1)"]
REF_HR = 1.0
X_TICKS = [1, 2, 3, 4, 5]
Y_TICKS = [0.5, 1.0, 2.0]

sims = [
    [S1_DF10_G21, S1_DF10_G25, S1_DF6_G21],
    [S2_DF10_G21, S2_DF10_G25, S2_DF6_G21],
    [S3_DF10_G21, S3_DF10_G25, S3_DF6_G21],
    [S4_DF10_G21, S4_DF10_G25, S4_DF6_G21],
]
truths = [
    (TRUE_S1_TIME, TRUE_S1_HR),
    (TRUE_S23_TIME, TRUE_S2_HR),
    (TRUE_S23_TIME, TRUE_S3_HR),
    (TRUE_S4_TIME, TRUE_S4_HR),
]

sns.set_style("ticks")
plt.rcParams['font.family'] = ['Liberation Sans', 'DejaVu Sans']
plt.rcParams['lines.solid_capstyle'] = 'butt'

W, H = 771, 1015
fig = plt.figure(figsize=(W / 100, H / 100), dpi=100)

COL_X = [55, 297, 539]
ROW_TOP = [70, 313, 556, 799]
PANEL_W, PANEL_H, STRIP_H = 229, 164, 33
PINK = "#8B0A5A"
DARK = "#1c0714"


def fig_box(x, y, w, h):
    # pixel box (top-left origin) -> figure fraction
    return [x / W, 1 - (y + h) / H, w / W, h / H]


for r in range(4):
    t_true, hr_true = truths[r]
    true_df = pd.DataFrame({'time': t_true, 'hr': hr_true})
    for c in range(3):
        ax = fig.add_axes(fig_box(COL_X[c], ROW_TOP[r], PANEL_W, PANEL_H))

        rows = []
        for i, curve in enumerate(sims[r][c]):
            for t, v in zip(TIME_GRID, curve):
                rows.append({'draw': i, 'time': t, 'hr': v})
        sim_df = pd.DataFrame(rows)

        sns.lineplot(data=sim_df, x='time', y='hr', units='draw', estimator=None,
                     color=PINK, alpha=0.26, lw=0.9, ax=ax, legend=False)
        ax.hlines(REF_HR, TIME_GRID[0], TIME_GRID[-1], colors="#8c8c8c",
                  lw=2.0, linestyles=(0, (4.5, 3.5)), zorder=3)
        sns.lineplot(data=true_df, x='time', y='hr', color=DARK, lw=3.2, ax=ax,
                     zorder=4)

        ax.set_yscale('log')
        ax.set_ylim(0.385, 2.48)
        ax.set_xlim(-0.275, 5.775)
        ax.yaxis.set_major_locator(mticker.FixedLocator(Y_TICKS))
        ax.yaxis.set_major_formatter(mticker.FixedFormatter([f"{v:.1f}" for v in Y_TICKS]))
        ax.yaxis.set_minor_locator(mticker.NullLocator())
        ax.set_xticks(X_TICKS)
        ax.set_xlabel('')
        ax.set_ylabel('')
        ax.tick_params(labelsize=8.5, length=4, width=1.1, colors='#222222',
                       labelcolor='#222222', pad=2.5)

        for side in ['top', 'right']:
            ax.spines[side].set_visible(False)
        ax.spines['left'].set_linewidth(1.4)
        ax.spines['bottom'].set_linewidth(1.4)
        if c > 0:
            ax.spines['left'].set_visible(False)
            ax.tick_params(axis='y', left=False, labelleft=False)
        if r < 3:
            ax.spines['bottom'].set_visible(False)
            ax.tick_params(axis='x', bottom=False, labelbottom=False)

        # two stacked strips above each panel
        for k, label in enumerate([SCENARIOS[r], PRIORS[c]]):
            y0 = ROW_TOP[r] - 2 * STRIP_H + k * STRIP_H
            fig.add_artist(Rectangle((COL_X[c] / W, 1 - (y0 + STRIP_H) / H),
                                     PANEL_W / W, STRIP_H / H,
                                     transform=fig.transFigure, fc='white',
                                     ec='black', lw=1.6))
            fig.text((COL_X[c] + PANEL_W / 2) / W, 1 - (y0 + STRIP_H / 2) / H, label,
                     ha='center', va='center', fontsize=7.5, color='#222222',
                     linespacing=1.2)
        fig.add_artist(plt.Line2D([COL_X[c] / W, (COL_X[c] + PANEL_W) / W],
                                  [1 - (ROW_TOP[r] - STRIP_H) / H] * 2,
                                  transform=fig.transFigure, color='black', lw=3.0))

fig.text(13 / W, 1 - 518 / H, "Hazard ratio (log scale)", rotation=90,
         ha='center', va='center', fontsize=12)
fig.text((COL_X[1] + PANEL_W / 2) / W, 1 - 997 / H, "Time (years)",
         ha='center', va='center', fontsize=12)

fig.savefig("out.png", dpi=100)
